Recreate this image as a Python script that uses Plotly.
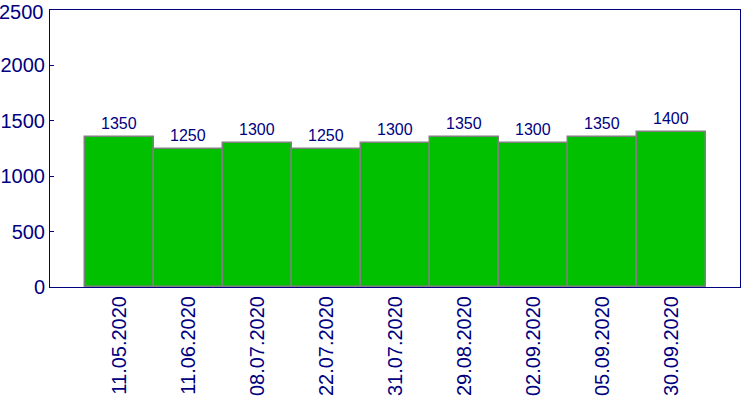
import plotly.graph_objects as go

dates = ["11.05.2020", "11.06.2020", "08.07.2020", "22.07.2020", "31.07.2020",
         "29.08.2020", "02.09.2020", "05.09.2020", "30.09.2020"]
values = [1350, 1250, 1300, 1250, 1300, 1350, 1300, 1350, 1400]
y_ticks = [0, 500, 1000, 1500, 2000, 2500]

navy = "#000080"
xs = list(range(len(dates)))
fig = go.Figure(go.Bar(
    x=xs, y=values,
    marker=dict(color="#00C000", line=dict(color="#808080", width=1.5)),
))
for x, v in zip(xs, values):
    fig.add_annotation(x=x, y=v, text=str(v), showarrow=False, yanchor="bottom",
                       yshift=3, font=dict(color=navy, size=16, family="Liberation Sans"))
# top tick label drawn as annotation, kept inside the page at the top edge
fig.add_annotation(xref="paper", x=0, yref="paper", y=1, text=str(y_ticks[-1]),
                   showarrow=False, xanchor="right", yanchor="top", xshift=-5, yshift=10,
                   borderpad=0,
                   font=dict(color=navy, size=20, family="Liberation Sans"))
fig.update_layout(
    width=750, height=400, margin=dict(l=50, r=10, t=10, b=113),
    paper_bgcolor="white", plot_bgcolor="white", bargap=0, showlegend=False,
    font=dict(family="Liberation Sans", color=navy),
)
fig.update_xaxes(range=[-1, len(dates)], tickmode="array",
                 tickvals=xs, ticktext=dates, automargin=False,
                 tickangle=-90, tickfont=dict(size=20, color=navy),
                 showline=True, linecolor=navy, linewidth=1, mirror=True,
                 showgrid=False, zeroline=False, ticks="")
fig.update_yaxes(range=[0, 2500], tickmode="array", tickvals=y_ticks[:-1], automargin=False,
                 tickfont=dict(size=20, color=navy),
                 showline=True, linecolor=navy, linewidth=1, mirror=True,
                 showgrid=False, zeroline=False, ticks="inside", ticklen=4,
                 tickcolor=navy)
fig.write_html("out.html")
